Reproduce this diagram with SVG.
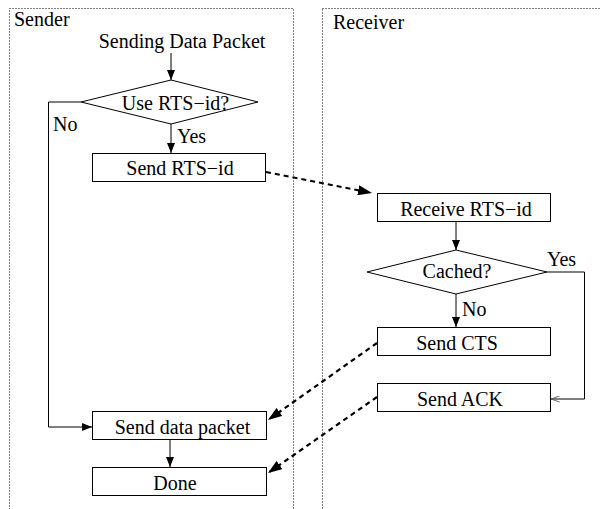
<svg xmlns="http://www.w3.org/2000/svg" width="600" height="509" viewBox="0 0 600 509" font-family="'Liberation Serif', 'DejaVu Serif', serif">
<defs>
<style>
text{font-family:'Liberation Serif','DejaVu Serif',serif;font-size:20px;fill:#000}
.box{fill:#fff;stroke:#000;stroke-width:1}
.lane{fill:none;stroke:#000;stroke-width:1;stroke-dasharray:1 2}
.flow{fill:none;stroke:#000;stroke-width:1}
.msg{fill:none;stroke:#000;stroke-width:2.2;stroke-dasharray:5 4}
</style>
<marker id="ah" viewBox="0 0 10 8" refX="10" refY="4" markerWidth="10" markerHeight="8" markerUnits="userSpaceOnUse" orient="auto">
<path d="M0,0 L10,4 L0,8 z" fill="#000"/>
</marker>
<marker id="ao" viewBox="0 0 10 8" refX="10" refY="4" markerWidth="10" markerHeight="7" markerUnits="userSpaceOnUse" orient="auto">
<path d="M0,0.5 L10,4 L0,7.5" fill="none" stroke="#555" stroke-width="1"/>
</marker>
<marker id="ad" viewBox="0 0 14 10" refX="14" refY="5" markerWidth="14" markerHeight="10" markerUnits="userSpaceOnUse" orient="auto">
<path d="M0,0 L14,5 L0,10 z" fill="#000"/>
</marker>
</defs>

<g id="lane-sender">
<rect class="lane" x="9.5" y="8.5" width="284" height="520"/>
<text x="14" y="26">Sender</text>
</g>
<g id="lane-receiver">
<rect class="lane" x="322.5" y="8.5" width="300" height="520"/>
<text x="333" y="29">Receiver</text>
</g>

<g id="connectors">
<line class="flow" x1="171" y1="53" x2="171" y2="80" marker-end="url(#ah)"/>
<polyline class="flow" points="81,102 48.5,102 48.5,427 92,427" marker-end="url(#ah)"/>
<line class="flow" x1="171" y1="124" x2="171" y2="153" marker-end="url(#ah)"/>
<line class="flow" x1="456" y1="221" x2="456" y2="250" marker-end="url(#ah)"/>
<line class="flow" x1="456" y1="294" x2="456" y2="327" marker-end="url(#ah)"/>
<polyline class="flow" points="547,272 584.5,272 584.5,399 551,399" stroke="#444" marker-end="url(#ao)"/>
<line class="flow" x1="170" y1="439" x2="170" y2="467" marker-end="url(#ah)"/>
<line class="msg" x1="266" y1="172" x2="372" y2="193" marker-end="url(#ad)"/>
<line class="msg" x1="377" y1="343" x2="268" y2="420" marker-end="url(#ad)"/>
<line class="msg" x1="377" y1="397" x2="268" y2="473" marker-end="url(#ad)"/>
<text x="53" y="131">No</text>
<text x="177" y="143">Yes</text>
<text x="547" y="266">Yes</text>
<text x="462" y="316">No</text>
</g>

<g id="start">
<text x="182" y="48" text-anchor="middle">Sending Data Packet</text>
</g>
<g id="use-rts">
<polygon class="box" points="171,80 258,102 171,124 81,102"/>
<text x="175.5" y="110" text-anchor="middle">Use RTS−id?</text>
</g>
<g id="send-rts">
<rect class="box" x="92.5" y="153.5" width="173" height="28"/>
<text x="180" y="175" text-anchor="middle">Send RTS−id</text>
</g>
<g id="receive-rts">
<rect class="box" x="377.5" y="193.5" width="173" height="28"/>
<text x="466" y="216" text-anchor="middle">Receive RTS−id</text>
</g>
<g id="cached">
<polygon class="box" points="456,250 547,272 456,294 367,272"/>
<text x="457" y="278" text-anchor="middle">Cached?</text>
</g>
<g id="send-cts">
<rect class="box" x="377.5" y="327.5" width="173" height="28"/>
<text x="457" y="350" text-anchor="middle">Send CTS</text>
</g>
<g id="send-ack">
<rect class="box" x="377.5" y="383.5" width="173" height="28"/>
<text x="460" y="406" text-anchor="middle">Send ACK</text>
</g>
<g id="send-data">
<rect class="box" x="92.5" y="411.5" width="174" height="28"/>
<text x="182.5" y="434" text-anchor="middle">Send data packet</text>
</g>
<g id="done">
<rect class="box" x="92.5" y="467.5" width="174" height="28"/>
<text x="175" y="490" text-anchor="middle">Done</text>
</g>
</svg>
